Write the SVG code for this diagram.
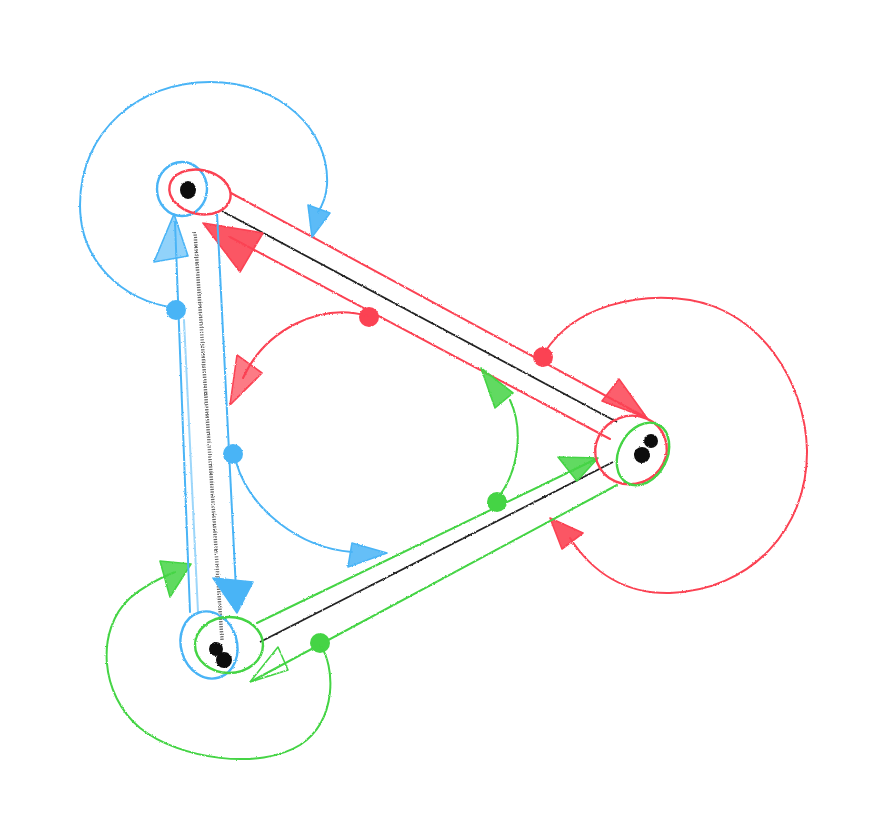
<svg xmlns="http://www.w3.org/2000/svg" width="886" height="829" viewBox="0 0 886 829">
  <defs>
    <filter id="rough" x="-5%" y="-5%" width="110%" height="110%">
      <feTurbulence type="fractalNoise" baseFrequency="0.9" numOctaves="2" seed="3" result="n"/>
      <feDisplacementMap in="SourceGraphic" in2="n" scale="2.2" xChannelSelector="R" yChannelSelector="G"/>
    </filter>
  </defs>
  <style>
    .r{stroke:#fb4253;} .b{stroke:#4ab4f6;} .g{stroke:#44d444;}
    .ln{fill:none;stroke-width:2;stroke-linecap:round;stroke-linejoin:round;}
    .ring{fill:none;stroke-width:2.4;}
    .blk{fill:none;stroke:#222;stroke-width:1.8;}
    .gray{fill:none;stroke:#666;stroke-width:3.5;stroke-dasharray:1.2 1.3;}
    .dotc{stroke:none;}
    .fr{fill:#fb4253;} .fb{fill:#4ab4f6;} .fg{fill:#44d444;}
    .ah{stroke-width:1.6;stroke-linejoin:round;}
    .hol{fill:#fff;fill-opacity:0;}
    .pt{fill:#111;}
  </style>
  <rect width="886" height="829" fill="#fff"/>
  <g filter="url(#rough)">
  <g id="connectors">
    <!-- top <-> right (red) -->
    <line class="blk" x1="222" y1="211" x2="617" y2="422"/>
    <line class="ln r" x1="231" y1="193" x2="645" y2="417"/>
    <polygon class="ah r fr" points="647,418 619,379 602,401" fill-opacity="0.85"/>
    <line class="ln r" x1="610" y1="439" x2="230" y2="237"/>
    <polygon class="ah r fr" points="203,223 263,233 240,272" fill-opacity="0.9"/>
    <circle class="dotc fr" cx="543" cy="357" r="10"/>
    <circle class="dotc fr" cx="369" cy="317" r="10"/>
    <path class="ln r" d="M368 316 C 320 302, 265 330, 243 378"/>
    <polygon class="ah r fr" points="230,405 237,355 262,373" fill-opacity="0.7"/>
    <path class="ln r" d="M545 352 C 575 305, 640 292, 690 300 C 760 312, 805 380, 807 450 C 808 530, 750 590, 670 593 C 625 594, 592 572, 570 538"/>
    <polygon class="ah r fr" points="550,518 583,533 562,549" fill-opacity="0.9"/>

    <!-- right <-> bottom (green) -->
    <line class="blk" x1="260" y1="642" x2="613" y2="462"/>
    <line class="ln g" x1="257" y1="623" x2="596" y2="459"/>
    <polygon class="ah g fg" points="598,458 558,457 577,481" fill-opacity="0.85"/>
    <line class="ln g" x1="617" y1="485" x2="252" y2="681"/>
    <polygon class="ah g hol" points="250,682 278,647 288,670"/>
    <circle class="dotc fg" cx="497" cy="502" r="10"/>
    <circle class="dotc fg" cx="320" cy="643" r="10"/>
    <path class="ln g" d="M500 495 C 518 470, 524 430, 510 400"/>
    <polygon class="ah g fg" points="481,368 513,393 495,408" fill-opacity="0.85"/>
    <path class="ln g" d="M320 645 C 335 665, 338 720, 300 745 C 260 770, 180 760, 140 728 C 100 695, 95 630, 130 598 C 145 585, 160 578, 175 572"/>
    <polygon class="ah g fg" points="191,564 160,561 170,597" fill-opacity="0.85"/>

    <!-- top <-> bottom (blue) -->
    <line class="gray" x1="195" y1="232" x2="222" y2="640"/>
    <line class="ln b" x1="190" y1="612" x2="175" y2="222" stroke-width="3.5"/>
    <line class="ln b" x1="198" y1="612" x2="184" y2="320" stroke-width="2" stroke-opacity="0.55"/>
    <polygon class="ah b fb" points="174,214 154,262 188,256" fill-opacity="0.6"/>
    <line class="ln b" x1="217" y1="213" x2="236" y2="590" stroke-width="2.6"/>
    <polygon class="ah b fb" points="237,613 213,578 253,582"/>
    <circle class="dotc fb" cx="176" cy="310" r="10"/>
    <circle class="dotc fb" cx="233" cy="454" r="10"/>
    <path class="ln b" d="M236 462 C 250 510, 300 548, 352 552"/>
    <polygon class="ah b fb" points="387,553 352,543 348,567" fill-opacity="0.85"/>
    <path class="ln b" d="M175 308 C 120 300, 80 260, 80 205 C 80 130, 140 82, 210 82 C 280 82, 330 130, 327 185 C 326 198, 322 206, 318 212"/>
    <polygon class="ah b fb" points="312,237 308,205 330,213" fill-opacity="0.9"/>
  </g>

  <g id="node-top">
    <ellipse class="ring b" cx="182" cy="189" rx="25" ry="27"/>
    <ellipse class="ring r" cx="200" cy="192" rx="31" ry="22" transform="rotate(12 200 192)"/>
    <ellipse class="pt" cx="188" cy="190" rx="8" ry="9"/>
  </g>

  <g id="node-right">
    <ellipse class="ring r" cx="631" cy="450" rx="36" ry="34" stroke-width="1.6" transform="rotate(-20 631 450)"/>
    <ellipse class="ring g" cx="643" cy="454" rx="24" ry="33" stroke-width="3.2" transform="rotate(28 643 454)"/>
    <ellipse class="pt" cx="651" cy="441" rx="7" ry="7"/>
    <ellipse class="pt" cx="642" cy="455" rx="8" ry="8"/>
  </g>

  <g id="node-bottom">
    <ellipse class="ring b" cx="209" cy="645" rx="28" ry="34" transform="rotate(-17 209 645)"/>
    <ellipse class="ring g" cx="229" cy="645" rx="34" ry="28"/>
    <ellipse class="pt" cx="216" cy="649" rx="7" ry="7"/>
    <ellipse class="pt" cx="224" cy="660" rx="8" ry="8"/>
  </g>
  </g>
</svg>
